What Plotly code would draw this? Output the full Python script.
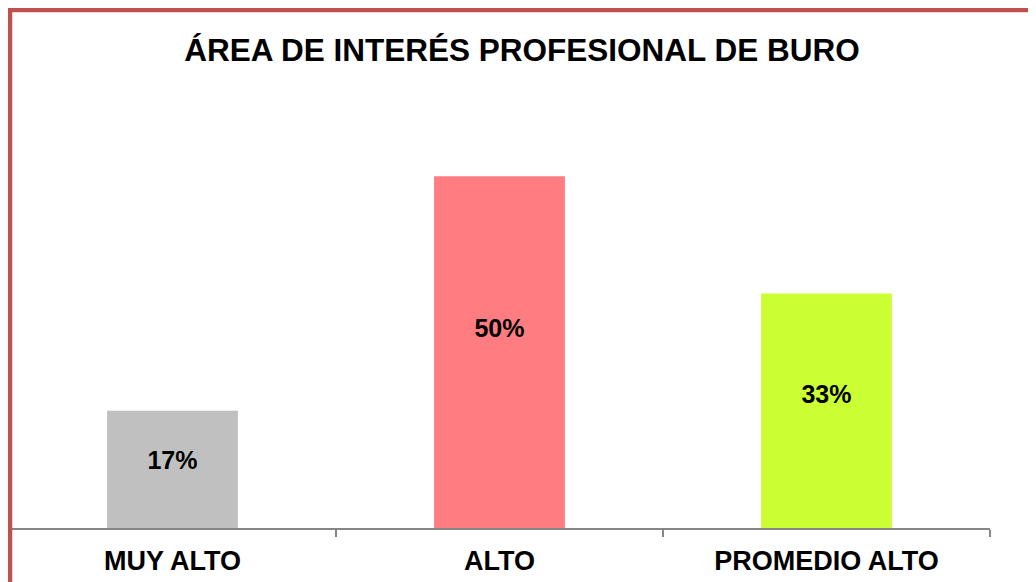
import plotly.graph_objects as go

categorias = ["MUY ALTO", "ALTO", "PROMEDIO ALTO"]
porcentajes = [16.67, 50.0, 33.33]
etiquetas = ["17%", "50%", "33%"]
colores = ["#C0C0C0", "#FF7C80", "#CCFF33"]

fig = go.Figure()
fig.add_trace(go.Bar(
    x=categorias, y=porcentajes,
    marker=dict(color=colores, line=dict(width=0)),
    hoverinfo="skip",
))
# etiquetas de datos, un poco por encima del centro de cada barra
fig.add_trace(go.Scatter(
    x=categorias, y=[v * 0.56 for v in porcentajes],
    mode="text", text=etiquetas,
    textfont=dict(family="Liberation Sans, Arial", size=25, color="black", weight="bold"),
    hoverinfo="skip",
))

fig.update_layout(
    width=1036, height=582,
    margin=dict(l=1, r=54, t=98, b=62),
    paper_bgcolor="white", plot_bgcolor="white",
    bargap=0.6, showlegend=False,
    font=dict(family="Liberation Sans, Arial", color="black"),
    title=dict(
        text="ÁREA DE INTERÉS PROFESIONAL DE BURO",
        font=dict(size=31.5, weight="bold", color="black"),
        x=514 / 1036, xanchor="center", y=1 - 42 / 582, yanchor="middle",
    ),
    xaxis=dict(
        showline=True, linecolor="#868686", linewidth=1.5,
        ticks="outside", tickson="boundaries", ticklen=7, tickcolor="#868686", tickwidth=1.5,
        ticklabelstandoff=8,
        tickfont=dict(size=27, weight="bold", color="black"),
        showgrid=False, zeroline=False,
    ),
    yaxis=dict(range=[0, 60], visible=False, showgrid=False, zeroline=False),
    shapes=[dict(
        type="rect", xref="paper", yref="paper",
        x0=1 / 981, x1=1.08, y0=-0.3, y1=(520 - 2) / 422,
        line=dict(color="#C0504D", width=4.5), fillcolor="rgba(0,0,0,0)", layer="above",
    )],
)

fig.write_html("out.html")
